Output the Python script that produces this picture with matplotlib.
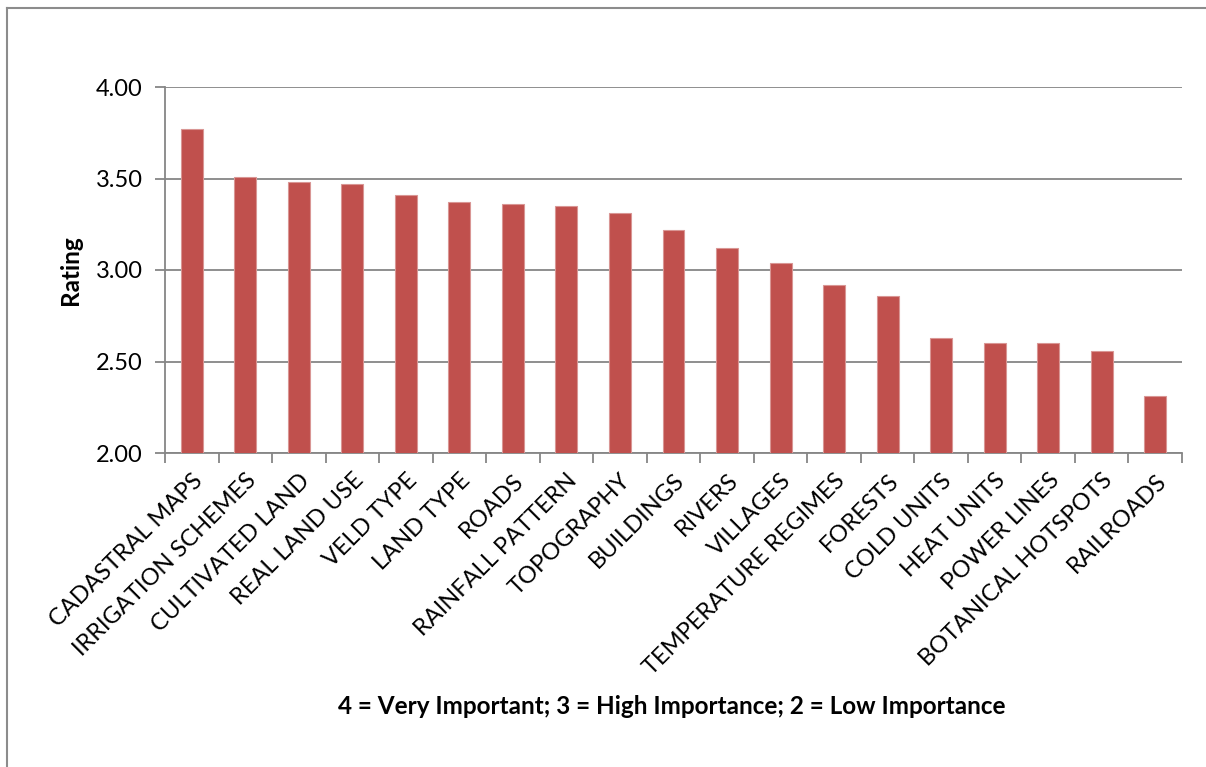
import matplotlib
matplotlib.use("Agg")
import matplotlib.pyplot as plt
from matplotlib.lines import Line2D
import numpy as np

categories = ["CADASTRAL MAPS", "IRRIGATION SCHEMES", "CULTIVATED LAND", "REAL LAND USE",
              "VELD TYPE", "LAND TYPE", "ROADS", "RAINFALL PATTERN", "TOPOGRAPHY",
              "BUILDINGS", "RIVERS", "VILLAGES", "TEMPERATURE REGIMES", "FORESTS",
              "COLD UNITS", "HEAT UNITS", "POWER LINES", "BOTANICAL HOTSPOTS", "RAILROADS"]
ratings = [3.77, 3.51, 3.48, 3.47, 3.41, 3.37, 3.36, 3.35, 3.31, 3.22, 3.12, 3.04,
           2.92, 2.86, 2.63, 2.60, 2.60, 2.56, 2.31]
yticks = [2.00, 2.50, 3.00, 3.50, 4.00]

plt.rcParams['font.family'] = ['Lato', 'DejaVu Sans']

W, H = 1206, 767
fig = plt.figure(figsize=(W / 100, H / 100), dpi=100)
ax = fig.add_axes([165 / W, 1 - 453 / H, (1182 - 165) / W, (453 - 87) / H])

x = np.arange(len(categories))
ax.bar(x, ratings, width=0.41, bottom=0, color="#C0504D", edgecolor="#D99694",
       linewidth=0.8, zorder=3)
ax.set_xlim(-0.5, len(categories) - 0.5)
ax.set_ylim(2.0, 4.0)
ax.set_yticks(yticks)
ax.set_yticklabels([f"{v:.2f}" for v in yticks], fontsize=17)
ax.yaxis.grid(True, color="#868686", linewidth=1.3, zorder=0)

ax.set_xticks(x)
ax.set_xticklabels(categories, rotation=45, ha="right", rotation_mode="anchor", fontsize=17)
ax.tick_params(axis="x", length=0, pad=12)
ax.set_xticks(np.arange(len(categories) + 1) - 0.5, minor=True)
ax.tick_params(axis="x", which="minor", length=7, width=1.3, color="#868686", direction="out")
ax.tick_params(axis="y", length=7, width=1.3, color="#868686", direction="out", pad=9)

for s in ["top", "right"]:
    ax.spines[s].set_visible(False)
for s in ["left", "bottom"]:
    ax.spines[s].set_color("#868686")
    ax.spines[s].set_linewidth(1.3)

ax.set_ylabel("Rating", fontsize=17.5, fontweight="bold", labelpad=10)
fig.text(672 / W, 1 - 706 / H, "4 = Very Important; 3 = High Importance; 2 = Low Importance",
         ha="center", va="center", fontsize=17.5, fontweight="bold")

# outer chart frame
fig.add_artist(Line2D([7 / W, 7 / W], [0, 1 - 8 / H], transform=fig.transFigure,
                      color="#8C8C8C", linewidth=1.5))
fig.add_artist(Line2D([7 / W, 1.0], [1 - 8 / H, 1 - 8 / H], transform=fig.transFigure,
                      color="#8C8C8C", linewidth=1.5))

fig.savefig("out.png", dpi=100)
